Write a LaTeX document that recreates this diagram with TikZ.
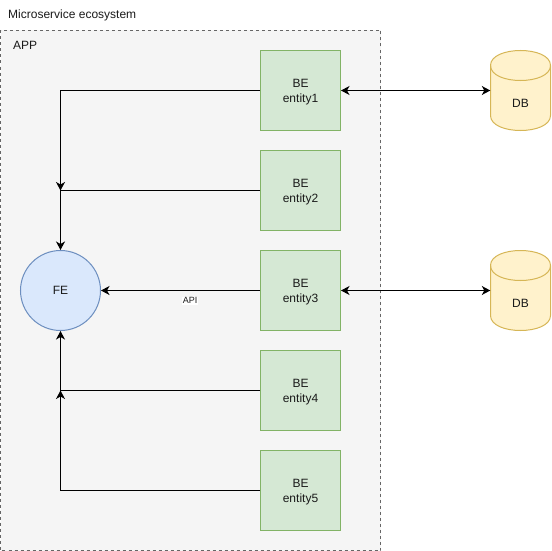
\documentclass[tikz,border=0pt]{standalone}
\usepackage{fontspec}
\setmainfont{Liberation Sans}
\usetikzlibrary{arrows.meta}
\definecolor{beFill}{HTML}{D5E8D4}
\definecolor{beLine}{HTML}{82B366}
\definecolor{feFill}{HTML}{DAE8FC}
\definecolor{feLine}{HTML}{6C8EBF}
\definecolor{dbFill}{HTML}{FFF2CC}
\definecolor{dbLine}{HTML}{D6B656}
\definecolor{appFill}{HTML}{F5F5F5}
\definecolor{appLine}{HTML}{666666}
\definecolor{inkText}{HTML}{1A1A1A}
\tikzset{
  x=1pt,y=-1pt,
  every node/.style={font=\fontsize{12}{15}\selectfont,text=inkText},
  appbox/.style={draw=appLine,fill=appFill,line width=1pt,dash pattern=on 3pt off 3pt},
  bebox/.style={draw=beLine,fill=beFill,line width=1pt,minimum width=80pt,minimum height=80pt,inner sep=0pt,align=center},
  fecircle/.style={draw=feLine,fill=feFill,line width=1pt,circle,minimum size=80pt,inner sep=0pt},
  dbshape/.style={draw=none,minimum width=60pt,minimum height=80pt,inner sep=0pt},
  link/.style={draw=black,line width=1.1pt,-{Stealth[length=8.5pt,width=9pt,inset=2.5pt]}},
  biglink/.style={link,{Stealth[length=8.5pt,width=9pt,inset=2.5pt]}-{Stealth[length=8.5pt,width=9pt,inset=2.5pt]}},
  textlabel/.style={inner sep=0pt,anchor=west},
}
\newcommand{\dbcyl}[3]{%
  \node[dbshape] (#3) at (#1,#2) {};
  \draw[dbLine,fill=dbFill,line width=1pt] (#1-30,#2-25) -- (#1-30,#2+25)
     .. controls (#1-30,#2+45) and (#1+30,#2+45) .. (#1+30,#2+25)
     -- (#1+30,#2-25)
     .. controls (#1+30,#2-45) and (#1-30,#2-45) .. (#1-30,#2-25) -- cycle;
  \draw[dbLine,line width=1pt] (#1-30,#2-25) .. controls (#1-30,#2-5) and (#1+30,#2-5) .. (#1+30,#2-25);
  \node at (#1,#2+13) {DB};
}
\newcommand{\betop}{\rule{0pt}{10.6pt}BE}
\begin{document}
\begin{tikzpicture}
\useasboundingbox (0,0) rectangle (551,551);
\node[textlabel] (title) at (8,15) {Microservice ecosystem};
\path[appbox] (0.5,30.5) rectangle (380.5,550.5);
\node[textlabel] (applabel) at (13,45) {APP};
\node[bebox] (e1) at (300.5,90.5) {\betop\\entity1};
\node[bebox] (e2) at (300.5,190.5) {\betop\\entity2};
\node[bebox] (e3) at (300.5,290.5) {\betop\\entity3};
\node[bebox] (e4) at (300.5,390.5) {\betop\\entity4};
\node[bebox] (e5) at (300.5,490.5) {\betop\\entity5};
\node[fecircle] (fe) at (60.5,290.5) {FE};
\coordinate (jtop) at (60.5,190.5);
\coordinate (jbot) at (60.5,390.5);
\draw[link] (e1.west) -| (jtop);
\draw[link] (e2.west) -| (fe.north);
\draw[link] (e3.west) -- (fe.east) node[pos=0.44,below=5.5pt,inner sep=1pt,fill=white,font=\fontsize{9}{10}\selectfont] (api) {API};
\draw[link] (e4.west) -| (fe.south);
\draw[link] (e5.west) -| (jbot);
\dbcyl{520.5}{90.5}{db1}
\dbcyl{520.5}{290.5}{db2}
\draw[biglink] (e1.east) -- (db1.west);
\draw[biglink] (e3.east) -- (db2.west);
\end{tikzpicture}
\end{document}
